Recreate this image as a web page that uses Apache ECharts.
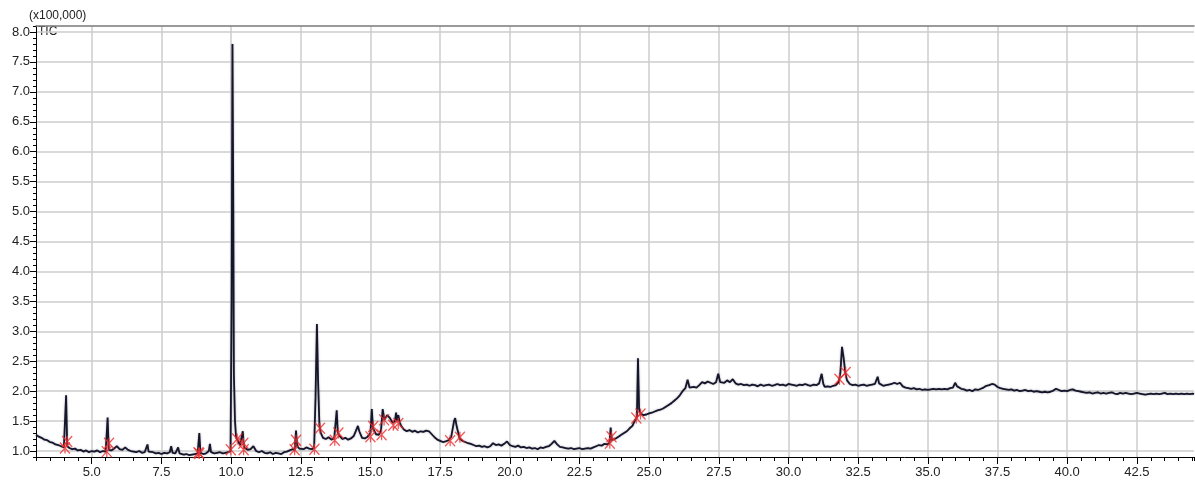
<!DOCTYPE html>
<html>
<head>
<meta charset="utf-8">
<script src="https://cdn.jsdelivr.net/npm/echarts@6/dist/echarts.min.js"></script>
<style>
html,body{margin:0;padding:0;background:#fff;}
#chart{width:1195px;height:480px;}
</style>
</head>
<body>
<div id="chart"></div>
<script>
// Retention time (min) vs TIC intensity (x100,000)
const ticSegA = [
  [3.0,1.27],[3.1,1.24],[3.2,1.22],[3.3,1.19],[3.4,1.18],[3.5,1.15],[3.6,1.14],[3.7,1.11],[3.8,1.10],[3.9,1.08],
  [4.0,1.06],[4.05,1.05],[4.08,1.93],[4.12,1.08],[4.2,1.05],[4.3,1.03],[4.4,1.04],[4.5,1.01],[4.6,1.02],[4.7,0.99],
  [4.8,1.01],[4.9,0.98],[5.0,1.00],[5.1,0.99],[5.2,1.01],[5.3,0.98],[5.4,1.00],[5.5,0.99],[5.54,1.00],[5.57,1.56],
  [5.61,1.02],[5.7,1.01],[5.8,1.04],[5.9,1.08],[6.0,1.03],[6.1,1.02],[6.2,1.06],[6.3,1.02],[6.4,1.00],[6.5,0.99],
  [6.6,0.98],[6.7,1.00],[6.8,0.97],[6.9,0.98],[6.97,1.00],[7.0,1.11],[7.04,0.99],[7.1,0.97],[7.2,0.98],[7.3,0.96],
  [7.4,0.97],[7.5,0.95],[7.6,0.97],[7.7,0.96],[7.8,0.98],[7.85,1.08],[7.9,0.97],[8.0,0.96],[8.1,1.06],[8.15,0.96],
  [8.2,0.95],[8.3,0.94],[8.4,0.95],[8.5,0.93],[8.6,0.94],[8.7,0.95],[8.8,0.96],[8.83,0.97],[8.86,1.30],[8.9,0.97],
  [9.0,0.95],[9.1,0.96],[9.2,1.00],[9.24,1.12],[9.28,0.98],[9.4,0.96],[9.5,0.97],[9.6,0.98],[9.7,0.96],[9.8,0.97],
  [9.9,0.98],[9.98,1.00]
];
const ticSegB = [
  [10.02,3.5],[10.05,7.8],[10.08,5.0],[10.1,2.3],[10.14,1.5],[10.18,1.22],[10.25,1.17],[10.32,1.10],[10.38,1.08],
  [10.42,1.33],[10.46,1.06],[10.5,1.04],[10.6,1.02],[10.7,1.03],[10.8,1.08],[10.9,1.00],[11.0,0.98],[11.1,1.00],
  [11.2,0.97],[11.3,0.96],[11.4,0.98],[11.5,0.95],[11.6,0.97],[11.7,0.96],[11.8,0.95],[11.9,0.98],[12.0,0.99],
  [12.1,1.01],[12.2,1.03],[12.28,1.02],[12.33,1.34],[12.37,1.08],[12.45,1.04],[12.5,1.05],[12.6,1.03],[12.7,1.06],
  [12.8,1.04],[12.9,1.03],[12.98,1.05],[13.03,1.9],[13.08,3.12],[13.12,2.2],[13.17,1.42],[13.22,1.30],[13.3,1.22],
  [13.4,1.20],[13.5,1.23],[13.6,1.19],[13.7,1.21],[13.76,1.23],[13.79,1.68],[13.83,1.30],[13.9,1.25],[14.0,1.20],
  [14.1,1.22],[14.2,1.19],[14.3,1.21],[14.4,1.25],[14.5,1.36],[14.55,1.42],[14.6,1.33],[14.7,1.22],[14.8,1.21],
  [14.9,1.24],[15.0,1.30],[15.05,1.70],[15.09,1.38],[15.2,1.28],[15.3,1.27],[15.38,1.35],[15.44,1.70],[15.5,1.52],
  [15.6,1.60],[15.7,1.55],[15.8,1.47],[15.88,1.50],[15.92,1.64],[15.96,1.50],[16.0,1.60],[16.05,1.48],[16.1,1.42],
  [16.2,1.36],[16.3,1.33],[16.4,1.35],[16.5,1.32],[16.6,1.34],[16.7,1.31],[16.8,1.33],[16.9,1.32],[17.0,1.34],
  [17.1,1.33],[17.2,1.28],[17.3,1.23],[17.4,1.19],[17.5,1.17],[17.6,1.15],[17.7,1.16],[17.8,1.18],[17.9,1.24],
  [18.0,1.50],[18.04,1.55],[18.1,1.40],[18.2,1.21],[18.3,1.17],[18.4,1.15]
];
const ticSegC = [
  [18.5,1.13],[18.6,1.12],[18.7,1.10],[18.8,1.08],[18.9,1.09],[19.0,1.07],[19.1,1.08],[19.2,1.06],[19.3,1.08],
  [19.4,1.13],[19.5,1.10],[19.6,1.11],[19.7,1.09],[19.8,1.12],[19.9,1.16],[20.0,1.10],[20.1,1.08],[20.2,1.07],
  [20.3,1.09],[20.4,1.06],[20.5,1.07],[20.6,1.05],[20.7,1.06],[20.8,1.04],[20.9,1.05],[21.0,1.03],[21.1,1.06],
  [21.2,1.05],[21.3,1.07],[21.4,1.08],[21.5,1.12],[21.6,1.17],[21.7,1.11],[21.8,1.07],[21.9,1.06],[22.0,1.05],
  [22.1,1.04],[22.2,1.05],[22.3,1.03],[22.4,1.04],[22.5,1.05],[22.6,1.03],[22.7,1.04],[22.8,1.05],[22.9,1.04],
  [23.0,1.06],[23.1,1.08],[23.2,1.10],[23.3,1.09],[23.4,1.12],[23.5,1.11],[23.58,1.14],[23.62,1.39],[23.66,1.18],
  [23.7,1.20],[23.8,1.21],[23.9,1.24],[24.0,1.27],[24.1,1.30],[24.2,1.33],[24.3,1.38],[24.4,1.42],[24.5,1.52],
  [24.56,1.56],[24.6,2.55],[24.64,1.70],[24.7,1.62],[24.8,1.60],[24.9,1.61],[25.0,1.63],[25.1,1.64],[25.2,1.66],
  [25.3,1.68],[25.4,1.69],[25.5,1.71],[25.6,1.74],[25.7,1.77],[25.8,1.80],[25.9,1.84],[26.0,1.88],[26.1,1.93],
  [26.2,2.00],[26.3,2.05],[26.38,2.19],[26.45,2.06],[26.5,2.05],[26.6,2.07],[26.7,2.06],[26.8,2.10],[26.9,2.15]
];
const ticSegD = [
  [27.0,2.13],[27.1,2.16],[27.2,2.14],[27.3,2.12],[27.4,2.15],[27.48,2.29],[27.55,2.15],[27.6,2.17],[27.7,2.14],
  [27.8,2.18],[27.9,2.15],[28.0,2.20],[28.1,2.13],[28.2,2.11],[28.3,2.12],[28.4,2.10],[28.5,2.11],[28.6,2.09],
  [28.7,2.11],[28.8,2.10],[28.9,2.08],[29.0,2.11],[29.1,2.09],[29.2,2.10],[29.3,2.11],[29.4,2.09],[29.5,2.10],
  [29.6,2.12],[29.7,2.10],[29.8,2.11],[29.9,2.09],[30.0,2.12],[30.1,2.11],[30.2,2.10],[30.3,2.09],[30.4,2.11],
  [30.5,2.10],[30.6,2.12],[30.7,2.10],[30.8,2.09],[30.9,2.11],[31.0,2.10],[31.1,2.13],[31.19,2.29],[31.25,2.12],
  [31.3,2.07],[31.4,2.08],[31.5,2.07],[31.6,2.09],[31.7,2.10],[31.8,2.15],[31.86,2.30],[31.92,2.74],[31.98,2.55],
  [32.04,2.30],[32.1,2.18],[32.2,2.12],[32.3,2.10],[32.4,2.11],[32.5,2.09],[32.6,2.10],[32.7,2.11],[32.8,2.09],
  [32.9,2.10],[33.0,2.11],[33.1,2.12],[33.2,2.24],[33.25,2.13],[33.3,2.10],[33.4,2.09],[33.5,2.10],[33.6,2.11],
  [33.7,2.12],[33.8,2.14],[33.9,2.12],[34.0,2.14],[34.1,2.08],[34.2,2.06],[34.3,2.05],[34.4,2.04],[34.5,2.05],
  [34.6,2.03],[34.7,2.04],[34.8,2.02],[34.9,2.03]
];
const ticSegE = [
  [35.0,2.02],[35.1,2.03],[35.2,2.04],[35.3,2.03],[35.4,2.04],[35.5,2.03],[35.6,2.04],[35.7,2.03],[35.8,2.05],
  [35.9,2.06],[35.98,2.14],[36.05,2.08],[36.1,2.05],[36.2,2.04],[36.3,2.03],[36.4,2.01],[36.5,2.02],[36.6,2.00],
  [36.7,2.03],[36.8,2.02],[36.9,2.04],[37.0,2.06],[37.1,2.09],[37.2,2.10],[37.3,2.12],[37.4,2.11],[37.5,2.07],
  [37.6,2.05],[37.7,2.04],[37.8,2.03],[37.9,2.02],[38.0,2.03],[38.1,2.01],[38.2,2.02],[38.3,2.00],[38.4,2.01],
  [38.5,2.02],[38.6,2.00],[38.7,2.01],[38.8,1.99],[38.9,2.00],[39.0,1.99],[39.1,1.98],[39.2,1.99],[39.3,1.98],
  [39.4,1.99],[39.5,2.01],[39.6,2.04],[39.7,2.02],[39.8,2.00],[39.9,2.01],[40.0,2.00],[40.1,2.02],[40.2,2.03],
  [40.3,2.01],[40.4,2.00],[40.5,1.99],[40.6,1.98],[40.7,1.97],[40.8,1.98],[40.9,1.96],[41.0,1.97],[41.1,1.98],
  [41.2,1.96],[41.3,1.97],[41.4,1.96],[41.5,1.97],[41.6,1.98],[41.7,1.96],[41.8,1.95],[41.9,1.97],[42.0,1.96],
  [42.1,1.97],[42.2,1.96],[42.3,1.95],[42.4,1.96],[42.5,1.97],[42.6,1.96],[42.7,1.95],[42.8,1.94],[42.9,1.95],
  [43.0,1.96],[43.1,1.95],[43.2,1.96],[43.3,1.95],[43.4,1.96],[43.5,1.97],[43.6,1.95],[43.7,1.96],[43.8,1.95],
  [43.9,1.96],[44.0,1.95],[44.1,1.96],[44.2,1.95],[44.3,1.96],[44.4,1.95],[44.5,1.96],[44.55,1.95]
];
// Peak start/end integration markers
const peakMarks = [
  [4.04,1.05],[4.12,1.16],[5.54,0.99],[5.62,1.13],[8.83,0.97],[8.86,0.96],
  [9.99,1.02],[10.22,1.20],[10.44,1.13],[10.45,1.02],[12.28,1.02],[12.33,1.18],
  [12.99,1.03],[13.19,1.38],[13.72,1.18],[13.85,1.30],[15.0,1.24],[15.1,1.41],
  [15.4,1.27],[15.49,1.52],[15.82,1.43],[16.0,1.46],[17.86,1.17],[18.21,1.23],
  [23.59,1.13],[23.65,1.24],[24.54,1.55],[24.69,1.62],[31.83,2.20],[32.05,2.31]
];
const xMajorTicks = [5.0,7.5,10.0,12.5,15.0,17.5,20.0,22.5,25.0,27.5,30.0,32.5,35.0,37.5,40.0,42.5];
const yMajorTicks = [1.0,1.5,2.0,2.5,3.0,3.5,4.0,4.5,5.0,5.5,6.0,6.5,7.0,7.5,8.0];

const ticData = [].concat(ticSegA, ticSegB, ticSegC, ticSegD, ticSegE);

const FONT = '"Liberation Sans", Arial, sans-serif';
const GRID_COLOR = '#cccccc';
const X_MIN = 3.0, X_MAX = 44.55, Y_MIN = 0.9, Y_MAX = 8.1;

const chart = echarts.init(document.getElementById('chart'), null, {renderer: 'canvas'});
chart.setOption({
  animation: false,
  backgroundColor: '#ffffff',
  textStyle: {fontFamily: FONT},
  grid: {left: 36, right: 1, top: 26, bottom: 23, containLabel: false},
  xAxis: [
    {
      type: 'value', position: 'bottom', min: X_MIN, max: X_MAX, interval: 0.5,
      axisLine: {show: true, lineStyle: {color: '#000', width: 1}},
      axisTick: {show: true, length: 4, lineStyle: {color: '#000', width: 1}},
      axisLabel: {show: false}, splitLine: {show: false}
    },
    {
      type: 'value', position: 'bottom', min: X_MIN, max: X_MAX,
      axisLine: {show: false},
      axisTick: {show: true, length: 7, customValues: xMajorTicks, lineStyle: {color: '#000', width: 1}},
      axisLabel: {show: true, customValues: xMajorTicks, margin: 9, fontSize: 13, color: '#222',
        fontFamily: FONT, formatter: v => v.toFixed(1)},
      splitLine: {show: true, lineStyle: {color: GRID_COLOR, width: 1.5}}
    },
    {
      type: 'value', position: 'top', min: X_MIN, max: X_MAX,
      axisLine: {show: true, lineStyle: {color: '#7a7a7a', width: 1.5}},
      axisTick: {show: false}, axisLabel: {show: false}, splitLine: {show: false}
    }
  ],
  yAxis: [
    {
      type: 'value', position: 'left', min: Y_MIN, max: Y_MAX, interval: 0.1,
      axisLine: {show: true, lineStyle: {color: '#000', width: 1}},
      axisTick: {show: true, length: 3, lineStyle: {color: '#000', width: 1}},
      axisLabel: {show: false}, splitLine: {show: false}
    },
    {
      type: 'value', position: 'left', min: Y_MIN, max: Y_MAX,
      axisLine: {show: false},
      axisTick: {show: true, length: 6, customValues: yMajorTicks, lineStyle: {color: '#000', width: 1}},
      axisLabel: {show: true, customValues: yMajorTicks, margin: 6, fontSize: 13, color: '#222',
        fontFamily: FONT, formatter: v => v.toFixed(1)},
      splitLine: {show: true, lineStyle: {color: GRID_COLOR, width: 1.5}}
    }
  ],
  graphic: [
    {type: 'text', left: 29, top: 10, style: {text: '(x100,000)', font: '12px ' + FONT, fill: '#222'}},
    {type: 'text', left: 38, top: 26, style: {text: 'TIC', font: '12px ' + FONT, fill: '#222'}}
  ],
  series: [
    {
      type: 'line', xAxisIndex: 0, yAxisIndex: 0, data: ticData,
      showSymbol: false, symbol: 'none', smooth: false,
      lineStyle: {color: '#15152b', width: 1.8, shadowColor: 'rgba(60,60,80,0.45)', shadowBlur: 2},
      z: 3
    },
    {
      type: 'scatter', xAxisIndex: 0, yAxisIndex: 0, data: peakMarks,
      symbol: 'path://M0,0L10,10M10,0L0,10M5,0L5,10',
      symbolSize: [10, 11],
      itemStyle: {color: 'rgba(0,0,0,0)', borderColor: '#ee2a2a', borderWidth: 1.3},
      z: 4
    }
  ]
});
</script>
</body>
</html>
